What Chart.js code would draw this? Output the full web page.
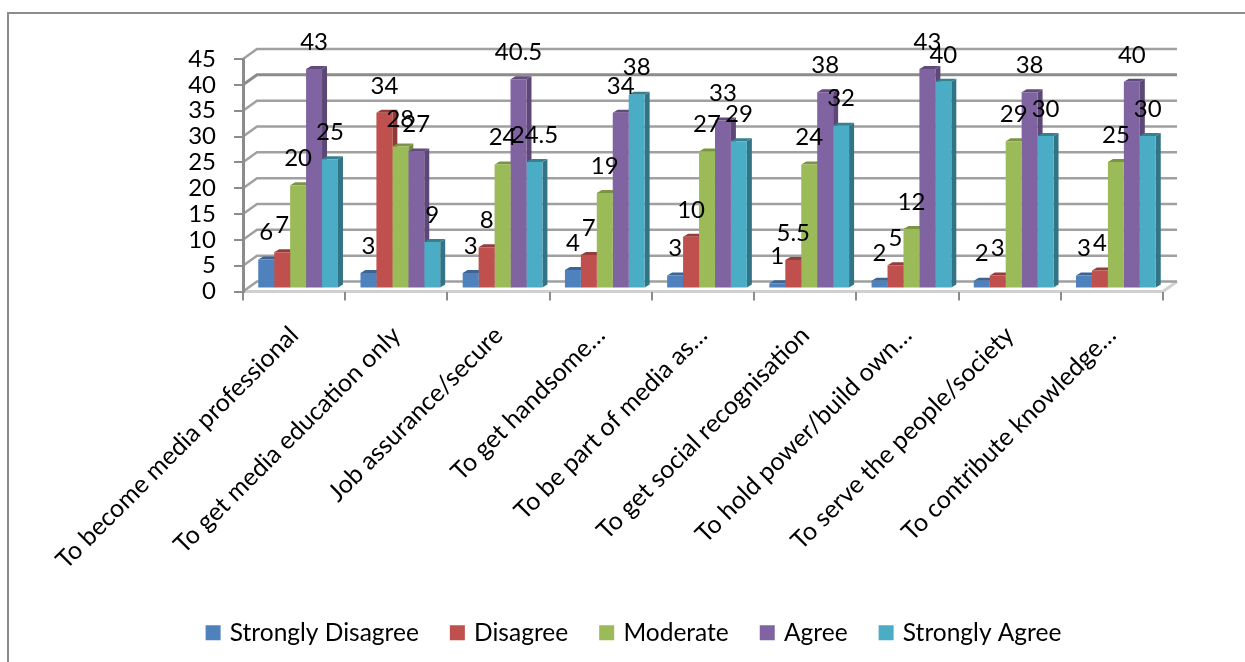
<!DOCTYPE html>
<html>
<head>
<meta charset="utf-8">
<style>
  html, body { margin: 0; padding: 0; background: #fff; }
  #wrap { position: relative; width: 1245px; height: 662px; overflow: hidden; }
  #frame { position: absolute; left: 7px; top: 12px; width: 1300px; height: 700px; border: 2px solid #8c8c8c; box-sizing: border-box; }
  canvas { position: absolute; left: 0; top: 0; }
</style>
<script src="https://cdn.jsdelivr.net/npm/chart.js@4/dist/chart.umd.min.js"></script>
</head>
<body>
<div id="wrap">
  <div id="frame"></div>
  <canvas id="surveyChart" width="1245" height="662"></canvas>
</div>
<script>
const categories = [
  'To become media professional',
  'To get media education only',
  'Job assurance/secure',
  'To get handsome…',
  'To be part of media as…',
  'To get social recognisation',
  'To hold power/build own…',
  'To serve the people/society',
  'To contribute knowledge…'
];
const yTickValues = [0, 5, 10, 15, 20, 25, 30, 35, 40, 45];

// bar heights as drawn
const stronglyDisagree = [5.6, 3, 3, 3.6, 2.5, 1, 1.5, 1.5, 2.5];
const disagree = [7, 34, 8, 6.5, 10, 5.5, 4.5, 2.5, 3.5];
const moderate = [20, 27.5, 24, 18.5, 26.5, 24, 11.5, 28.5, 24.5];
const agree = [42.5, 26.5, 40.5, 34, 32.5, 38, 42.5, 38, 40];
const stronglyAgree = [25, 9, 24.5, 37.5, 28.5, 31.5, 40, 29.5, 29.5];

// numbers printed above the bars
const stronglyDisagreeLabels = ['6', '3', '3', '4', '3', '1', '2', '2', '3'];
const disagreeLabels = ['7', '34', '8', '7', '10', '5.5', '5', '3', '4'];
const moderateLabels = ['20', '28', '24', '19', '27', '24', '12', '29', '25'];
const agreeLabels = ['43', '27', '40.5', '34', '33', '38', '43', '38', '40'];
const stronglyAgreeLabels = ['25', '9', '24.5', '38', '29', '32', '40', '30', '30'];

const FONT = 'Lato, "Liberation Sans", sans-serif';
const DEPTH_X = 14, DEPTH_Y = 10;   // wall depth
const BAR_DX = 5, BAR_DY = 3;       // bar side/top depth
const SHIFT_X = 4, SHIFT_Y = -3;    // bars stand a bit behind the front axis

function makeSeries(label, data, barLabels, color, side, top) {
  return { label: label, data: data, barLabels: barLabels, backgroundColor: color, sideColor: side, topColor: top };
}

const box3d = {
  id: 'box3d',
  beforeDraw(chart) {
    // floor and back wall lines
    const c = chart.ctx, a = chart.chartArea, y = chart.scales.y;
    c.save();
    c.strokeStyle = '#d0d0d0';
    c.lineWidth = 3;
    c.beginPath();
    c.moveTo(a.left, a.bottom);
    c.lineTo(a.right, a.bottom);
    c.lineTo(a.right + DEPTH_X, a.bottom - DEPTH_Y);
    c.stroke();
    yTickValues.forEach(function(v) {
      const py = y.getPixelForValue(v);
      c.strokeStyle = v === 40 ? '#8c8c8c' : '#a0a0a0';
      c.lineWidth = v === 40 ? 3 : 2.5;
      c.beginPath();
      c.moveTo(a.left, py);
      c.lineTo(a.left + DEPTH_X, py - DEPTH_Y);
      c.lineTo(a.right + DEPTH_X, py - DEPTH_Y);
      c.stroke();
    });
    c.restore();
  },
  beforeDatasetsDraw(chart) {
    const c = chart.ctx;
    c.save();
    c.translate(SHIFT_X, SHIFT_Y);
    categories.forEach(function(_, i) {
      chart.data.datasets.forEach(function(ds, d) {
        const bar = chart.getDatasetMeta(d).data[i];
        const l = bar.x - bar.width / 2, r = bar.x + bar.width / 2;
        c.fillStyle = ds.sideColor;
        c.beginPath();
        c.moveTo(r, bar.y);
        c.lineTo(r + BAR_DX, bar.y - BAR_DY);
        c.lineTo(r + BAR_DX, bar.base - BAR_DY);
        c.lineTo(r, bar.base);
        c.fill();
        c.fillStyle = ds.topColor;
        c.beginPath();
        c.moveTo(l, bar.y);
        c.lineTo(l + BAR_DX, bar.y - BAR_DY);
        c.lineTo(r + BAR_DX, bar.y - BAR_DY);
        c.lineTo(r, bar.y);
        c.fill();
      });
    });
  },
  afterDatasetsDraw(chart) {
    const c = chart.ctx;
    c.textAlign = 'center';
    c.textBaseline = 'middle';
    c.fillStyle = '#000';
    c.font = '24px ' + FONT;
    chart.data.datasets.forEach(function(ds, d) {
      chart.getDatasetMeta(d).data.forEach(function(bar, i) {
        c.fillText(ds.barLabels[i], bar.x, bar.y - 27);
      });
    });
    c.restore();
  }
};

new Chart(document.getElementById('surveyChart').getContext('2d'), {
  type: 'bar',
  plugins: [box3d],
  data: {
    labels: categories,
    datasets: [
      makeSeries('Strongly Disagree', stronglyDisagree, stronglyDisagreeLabels, '#4f81bd', '#38608f', '#3c6595'),
      makeSeries('Disagree', disagree, disagreeLabels, '#c0504d', '#8f3a38', '#953d3a'),
      makeSeries('Moderate', moderate, moderateLabels, '#9bbb59', '#748c41', '#7a9444'),
      makeSeries('Agree', agree, agreeLabels, '#8064a2', '#5c4776', '#614b7c'),
      makeSeries('Strongly Agree', stronglyAgree, stronglyAgreeLabels, '#4bacc6', '#327486', '#36808f')
    ]
  },
  options: {
    responsive: false,
    animation: false,
    layout: { padding: { left: 107, right: 82, top: 59, bottom: 7 } },
    datasets: { bar: { categoryPercentage: 0.78, barPercentage: 1 } },
    scales: {
      x: {
        grid: { offset: true, drawOnChartArea: false, color: '#8c8c8c', lineWidth: 2, tickLength: 9 },
        border: { display: false },
        ticks: { autoSkip: false, minRotation: 45, maxRotation: 45, color: '#000', padding: 20, font: { family: FONT, size: 25 } },
        afterFit(scale) { scale.height = 295; }
      },
      y: {
        min: 0,
        max: 45,
        afterBuildTicks(scale) { scale.ticks = yTickValues.map(function(v) { return { value: v }; }); },
        grid: { drawOnChartArea: false, color: '#8c8c8c', lineWidth: 2, tickLength: 9 },
        border: { color: '#8c8c8c', width: 3 },
        ticks: { autoSkip: false, color: '#000', padding: 18, font: { family: FONT, size: 24 } },
        afterFit(scale) { scale.width = 136; }
      }
    },
    plugins: {
      tooltip: { enabled: false },
      legend: {
        position: 'bottom',
        labels: {
          color: '#000', boxWidth: 9, boxHeight: 9, padding: 34, font: { family: FONT, size: 24.5 },
          // thick same-colour outline makes the swatch 15px while keeping the text close to it
          generateLabels(chart) {
            return Chart.defaults.plugins.legend.labels.generateLabels(chart).map(function(item) {
              item.strokeStyle = item.fillStyle;
              item.lineWidth = 6;
              return item;
            });
          }
        }
      }
    }
  }
});
</script>
</body>
</html>
